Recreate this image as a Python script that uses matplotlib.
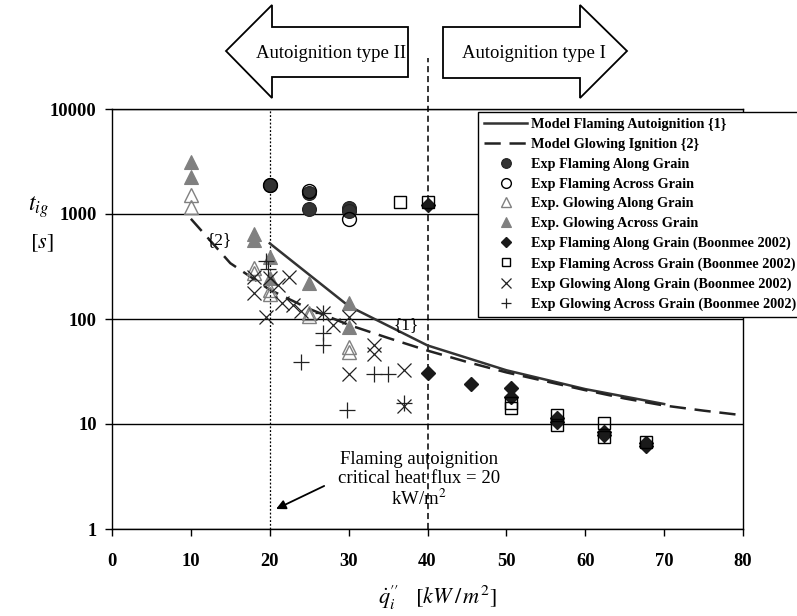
import matplotlib
matplotlib.use("Agg")
import matplotlib.pyplot as plt
from matplotlib.patches import Polygon

plt.rcParams['font.family'] = ['Liberation Serif', 'DejaVu Serif']
plt.rcParams['mathtext.fontset'] = 'stix'

# ---------------- data ----------------
model1_x = [20, 30, 40, 50, 60, 70]
model1_y = [525, 133, 56, 32.5, 21.5, 15.5]

model2_x = [10, 15, 20, 25, 30, 35, 40, 45, 50, 55, 60, 65, 70, 75, 80]
model2_y = [900, 340, 190, 125, 88, 66, 50, 39, 31, 25.5, 21, 17.5, 15, 13.4, 12.1]

flam_along_x = [20, 25, 25, 30, 30]
flam_along_y = [1900, 1600, 1120, 1150, 1060]

flam_across_x = [20, 25, 30]
flam_across_y = [1900, 1650, 890]

glow_along_x = [10, 10, 18, 18, 20, 20, 25, 25, 30, 30]
glow_along_y = [1510, 1170, 306, 274, 189, 174, 114, 106, 54, 48.5]

glow_across_x = [10, 10, 18, 18, 20, 20, 25, 30, 30]
glow_across_y = [3150, 2240, 640, 560, 387, 245, 220, 142, 84]

b_flam_along_x = [40, 40, 45.5, 50.6, 50.6, 56.4, 56.4, 62.4, 62.4, 67.7, 67.7]
b_flam_along_y = [1220, 30.6, 24, 22, 18, 11.3, 10.5, 8.4, 7.8, 6.6, 6.2]

b_flam_across_x = [36.5, 40, 50.6, 50.6, 56.4, 56.4, 62.4, 62.4, 67.7]
b_flam_across_y = [1300, 1300, 16, 14.2, 12.2, 9.8, 10.2, 7.5, 6.8]

b_glow_along_x = [18, 18, 19.5, 20, 21, 21.5, 22.5, 23, 24, 26.7, 28, 30, 30, 33.2, 33.2, 37, 37]
b_glow_along_y = [177, 250, 104, 245, 210, 142, 251, 136, 118, 114, 88, 104, 30, 56, 46, 33, 15]

b_glow_across_x = [19.5, 19.8, 24, 26.7, 26.7, 26.7, 29.8, 33.2, 35, 37]
b_glow_across_y = [360, 300, 39, 114, 74, 57, 13.6, 30, 30, 15.8]

xticks = [0, 10, 20, 30, 40, 50, 60, 70, 80]
yticks = [1, 10, 100, 1000, 10000]
ytick_labels = ['1', '10', '100', '1000', '10000']

# ---------------- figure ----------------
W, H = 797, 616
fig = plt.figure(figsize=(W / 100, H / 100), dpi=100)
ax = fig.add_axes([112 / W, 1 - 529 / H, (743 - 112) / W, (529 - 109) / H])
ax.set_yscale('log')
ax.set_xlim(0, 80)
ax.set_ylim(1, 10000)

dark = '#333333'
grey = '#808080'

ax.plot(model1_x, model1_y, color=dark, lw=1.8, zorder=3,
        label='Model Flaming Autoignition {1}')
ax.plot(model2_x, model2_y, color='#222222', lw=1.8, dashes=(6.5, 3.5), zorder=3,
        label='Model Glowing Ignition {2}')

ax.plot(flam_along_x, flam_along_y, 'o', ms=10, mfc=dark, mec='#222222', mew=0.8,
        ls='none', zorder=4, label='Exp Flaming Along Grain')
ax.plot(flam_across_x, flam_across_y, 'o', ms=10, mfc='none', mec='black', mew=1.0,
        ls='none', zorder=5, label='Exp Flaming Across Grain')
ax.plot(glow_along_x, glow_along_y, '^', ms=10, mfc='none', mec=grey, mew=1.0,
        ls='none', zorder=4, label='Exp. Glowing Along Grain')
ax.plot(glow_across_x, glow_across_y, '^', ms=10, mfc=grey, mec=grey, mew=0.8,
        ls='none', zorder=4, label='Exp. Glowing Across Grain')
ax.plot(b_flam_along_x, b_flam_along_y, 'D', ms=7.5, mfc='#1a1a1a', mec='#1a1a1a',
        ls='none', zorder=4, label='Exp Flaming Along Grain (Boonmee 2002)')
ax.plot(b_flam_across_x, b_flam_across_y, 's', ms=9, mfc='none', mec='black', mew=1.0,
        ls='none', zorder=5, label='Exp Flaming Across Grain (Boonmee 2002)')
ax.plot(b_glow_along_x, b_glow_along_y, 'x', ms=10, mec='#222222', mew=0.9,
        ls='none', zorder=4, label='Exp Glowing Along Grain (Boonmee 2002)')
ax.plot(b_glow_across_x, b_glow_across_y, '+', ms=11, mec='#222222', mew=0.9,
        ls='none', zorder=4, label='Exp Glowing Across Grain (Boonmee 2002)')

# reference lines
ax.axvline(20, color='black', lw=0.9, ls=(0, (1.5, 1.5)), zorder=2)
ax.plot([40, 40], [1, 30600], color='black', lw=1.1, ls=(0, (4, 2.5)),
        clip_on=False, zorder=2)

# grid / ticks
ax.yaxis.grid(True, which='major', color='black', lw=1.0)
ax.set_axisbelow(True)
ax.minorticks_off()
ax.set_xticks(xticks)
ax.set_yticks(yticks)
ax.set_yticklabels(ytick_labels)
ax.tick_params(axis='both', which='major', direction='out', length=5, width=1,
               labelsize=13.3)
ax.tick_params(axis='x', pad=12)
ax.tick_params(axis='y', pad=6)
for lab in ax.get_xticklabels() + ax.get_yticklabels():
    lab.set_fontweight('bold')
for s in ax.spines.values():
    s.set_linewidth(1.0)

# curve labels
ax.text(13.6, 565, '{2}', fontsize=12.5, ha='center', va='center')
ax.text(37.3, 88, '{1}', fontsize=12.5, ha='center', va='center')

# critical heat flux annotation
ax.text(38.9, 2.93, 'Flaming autoignition\ncritical heat flux = 20\nkW/m$^2$',
        fontsize=13.5, ha='center', va='center', linespacing=1.15)
ax.annotate('', xy=(20.8, 1.55), xytext=(26.9, 2.57),
            arrowprops=dict(arrowstyle='-|>', color='black', lw=1.3,
                            mutation_scale=14, shrinkA=0, shrinkB=0))

# legend
leg = ax.legend(loc='upper left', bbox_to_anchor=(478 / W, 1 - 112 / H),
                bbox_transform=fig.transFigure, borderaxespad=0,
                prop={'family': 'Liberation Serif', 'weight': 'bold', 'size': 10.3},
                frameon=True, fancybox=False, framealpha=1, edgecolor='black',
                handlelength=3.0, handletextpad=0.25, labelspacing=0.47,
                borderpad=0.45, numpoints=1, markerscale=0.7)
leg.get_frame().set_linewidth(1.0)
leg.set_zorder(10)

# axis labels
fig.text(38 / W, 1 - 207 / H, r'$t_{ig}$', fontsize=17, ha='center', va='center')
fig.text(42 / W, 1 - 243 / H, r'$[s]$', fontsize=16, ha='center', va='center')
fig.text(437 / W, 1 - 598 / H, r"$\dot{q}_i^{\prime\prime}\quad[kW\,/\,m^2]$",
         fontsize=16, ha='center', va='center')

# region arrows (overlay in pixel coords)
ov = fig.add_axes([0, 0, 1, 1])
ov.set_xlim(0, W)
ov.set_ylim(H, 0)
ov.axis('off')
left_arrow = [(226, 51), (272, 5), (272, 27), (408, 27), (408, 77),
              (272, 77), (272, 98)]
right_arrow = [(443, 27), (580, 27), (580, 5), (627, 51), (580, 98),
               (580, 78), (443, 78)]
for pts in (left_arrow, right_arrow):
    ov.add_patch(Polygon(pts, closed=True, fc='white', ec='black', lw=1.3))
ov.text(331, 53, 'Autoignition type II', fontsize=13.5, ha='center', va='center')
ov.text(534, 53, 'Autoignition type I', fontsize=13.5, ha='center', va='center')

fig.savefig('out.png', dpi=100)
